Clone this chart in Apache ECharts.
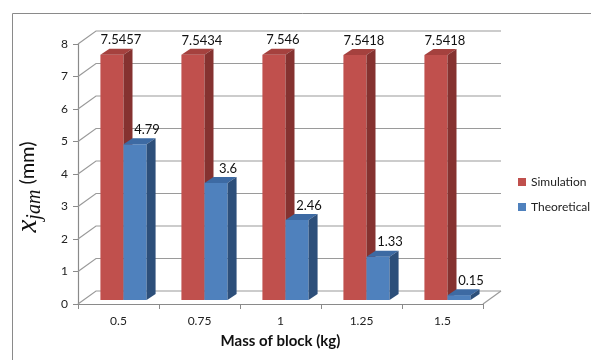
<!DOCTYPE html>
<html><head><meta charset="utf-8">
<script src="https://cdn.jsdelivr.net/npm/echarts@6/dist/echarts.min.js"></script>
<style>html,body{margin:0;padding:0;background:#fff}#c{width:591px;height:360px}</style>
</head><body><div id="c"></div>
<script>
const categories = ['0.5', '0.75', '1', '1.25', '1.5'];
const simulation = [7.5457, 7.5434, 7.546, 7.5418, 7.5418];
const theoretical = [4.79, 3.6, 2.46, 1.33, 0.15];
const yTicks = [0, 1, 2, 3, 4, 5, 6, 7, 8];
const seriesNames = ['Simulation', 'Theoretical'];

const DX = 18, DY = -13;        // wall depth
const BFX = 5, BFY = -4;        // bar front offset
const BDX = 9, BDY = -6;        // bar depth
const BW = 0.285;               // bar width fraction of category
const GRID = '#9a9a9a';
const FONT = 'Lato, "Open Sans", sans-serif';

const palettes = [
  {front: '#C0504D', top: '#A5413E', side: '#853230'},
  {front: '#4F81BD', top: '#3D6AA3', side: '#2D4F7A'}
];

function barRender(k) {
  return function (params, api) {
    const ci = api.value(0), v = api.value(1);
    const base = api.coord([ci, 0]);
    const top = api.coord([ci, v]);
    const cw = api.size([1, 0])[0];
    const bw = cw * BW;
    const x0 = (k === 0 ? base[0] - bw : base[0]) + BFX;
    const x1 = x0 + bw;
    const yb = base[1] + BFY, yt = top[1] + BFY;
    const p = palettes[k];
    return {
      type: 'group',
      children: [
        {type: 'polygon', shape: {points: [[x0, yt], [x1, yt], [x1, yb], [x0, yb]]}, style: {fill: p.front}},
        {type: 'polygon', shape: {points: [[x0, yt], [x0 + BDX, yt + BDY], [x1 + BDX, yt + BDY], [x1, yt]]}, style: {fill: p.top}},
        {type: 'polygon', shape: {points: [[x1, yt], [x1 + BDX, yt + BDY], [x1 + BDX, yb + BDY], [x1, yb]]}, style: {fill: p.side}},
        {type: 'text', x: (x0 + x1) / 2 + BDX + (k === 1 ? 3 : 0), y: yt + BDY - 2,
          style: {text: String(v), fill: '#111', font: '13px ' + FONT, align: 'center', verticalAlign: 'bottom',
            textAlign: 'center', textVerticalAlign: 'bottom'}}
      ]
    };
  };
}

function wallRender(params, api) {
  const cs = params.coordSys;
  const v = api.value(1);
  const y = api.coord([0, v])[1];
  const xl = cs.x, xr = cs.x + cs.width;
  const children = [
    {type: 'polyline', shape: {points: [[xl, y], [xl + DX, y + DY], [xr + DX, y + DY]]},
      style: {stroke: GRID, lineWidth: 1.2, fill: null}}
  ];
  if (v === 0) {
    children.push({type: 'line', shape: {x1: xr, y1: y, x2: xr + DX, y2: y + DY},
      style: {stroke: GRID, lineWidth: 1.2}});
  }
  return {type: 'group', children};
}

const chart = echarts.init(document.getElementById('c'), null, {renderer: 'canvas'});
chart.setOption({
  animation: false,
  backgroundColor: '#fff',
  graphic: [{type: 'rect', shape: {x: 12.5, y: 13.5, width: 700, height: 500},
    style: {fill: null, stroke: '#8a8a8a', lineWidth: 1}, z: -10}],
  grid: {left: 78, right: 108, top: 44, bottom: 56},
  legend: {
    data: seriesNames, orient: 'vertical', left: 513, top: 171,
    itemWidth: 8, itemHeight: 8, itemGap: 13, icon: 'rect',
    textStyle: {fontSize: 12, color: '#222', fontFamily: FONT}
  },
  xAxis: {
    type: 'category', data: categories,
    axisLine: {lineStyle: {color: '#8a8a8a', width: 1.2}},
    axisTick: {show: true, length: 5, lineStyle: {color: '#8a8a8a'}},
    axisLabel: {fontSize: 12, color: '#222', margin: 11, fontFamily: FONT},
    splitLine: {show: false},
    name: 'Mass of block (kg)', nameLocation: 'middle', nameGap: 30,
    nameTextStyle: {fontSize: 15, fontWeight: 'bold', color: '#111', fontFamily: FONT}
  },
  yAxis: {
    type: 'value', min: 0, max: 8, interval: 1,
    axisLine: {show: true, lineStyle: {color: '#8a8a8a', width: 1.2}},
    axisTick: {show: true, length: 5, lineStyle: {color: '#8a8a8a'}},
    axisLabel: {fontSize: 12, color: '#222', margin: 10, fontFamily: FONT},
    splitLine: {show: false},
    name: '{x|x}{s|jam}{u| (mm)}', nameLocation: 'middle', nameRotate: 90, nameGap: 33,
    nameTextStyle: {
      padding: [0, 26, 0, 0],
      rich: {
        x: {fontFamily: '"Liberation Serif", serif', fontStyle: 'italic', fontSize: 29, color: '#111', verticalAlign: 'middle', lineHeight: 34},
        s: {fontFamily: '"Liberation Serif", serif', fontStyle: 'italic', fontSize: 20, color: '#111', verticalAlign: 'bottom', lineHeight: 34},
        u: {fontFamily: FONT, fontSize: 20, color: '#111', verticalAlign: 'middle', lineHeight: 34}
      }
    }
  },
  series: [
    {type: 'custom', name: 'wall', renderItem: wallRender, clip: false, silent: true, z: 1,
      data: yTicks.map(v => [0, v])},
    {type: 'custom', name: seriesNames[0], renderItem: barRender(0), clip: false, z: 2,
      itemStyle: {color: palettes[0].front},
      data: simulation.map((v, i) => [i, v])},
    {type: 'custom', name: seriesNames[1], renderItem: barRender(1), clip: false, z: 3,
      itemStyle: {color: palettes[1].front},
      data: theoretical.map((v, i) => [i, v])}
  ]
});
</script></body></html>
